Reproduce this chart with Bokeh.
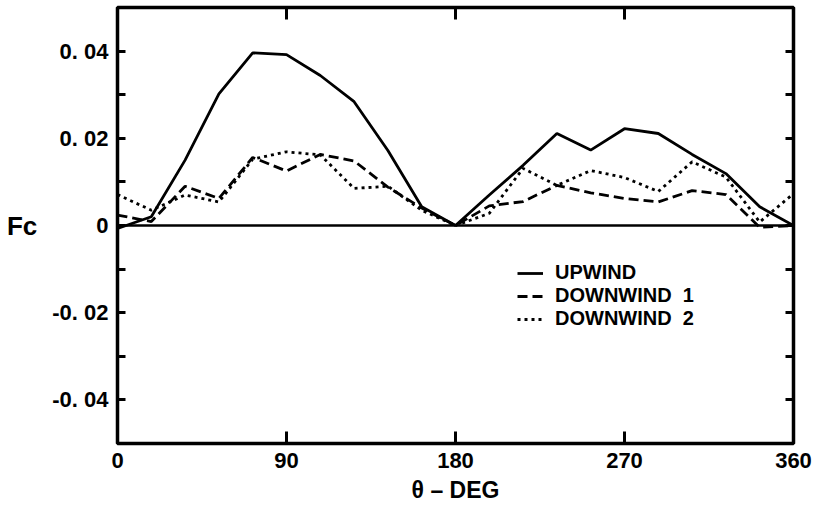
from bokeh.plotting import figure
from bokeh.models import Range1d, LinearAxis, FixedTicker, Span, Legend, LegendItem
from bokeh.embed import file_html
from bokeh.resources import INLINE

# ---- data ----
theta = [0, 18, 36, 54, 72, 90, 108, 126, 144, 162, 180,
         198, 216, 234, 252, 270, 288, 306, 324, 342, 360]
upwind = [-0.0007, 0.0020, 0.0150, 0.0302, 0.0396, 0.0392, 0.0344, 0.0284, 0.0172, 0.0043, 0.0,
          0.0070, 0.0138, 0.0211, 0.0173, 0.0222, 0.0211, 0.0163, 0.0119, 0.0043, 0.0]
downwind1 = [0.0024, 0.0009, 0.0090, 0.0062, 0.0156, 0.0125, 0.0163, 0.0148, 0.0088, 0.0040, 0.0,
             0.0045, 0.0055, 0.0092, 0.0075, 0.0062, 0.0054, 0.0080, 0.0071, -0.0004, 0.0]
downwind2 = [0.0071, 0.0035, 0.0070, 0.0054, 0.0152, 0.0169, 0.0162, 0.0085, 0.0090, 0.0035, 0.0,
             0.0028, 0.0131, 0.0092, 0.0126, 0.0110, 0.0078, 0.0146, 0.0111, 0.0008, 0.0073]

x_ticks = [0, 90, 180, 270, 360]
y_ticks = [-0.04, -0.02, 0.0, 0.02, 0.04]
y_minor = [-0.03, -0.01, 0.01, 0.03]
y_tick_labels = ["-0. 04", "-0. 02", "0", "0. 02", "0. 04"]
series_names = ["UPWIND", "DOWNWIND  1", "DOWNWIND  2"]
x_title = "θ – DEG"
y_title = "Fc"

FONT = "Liberation Sans"

p = figure(width=813, height=512, x_range=Range1d(0, 360), y_range=Range1d(-0.05, 0.05),
           output_backend="svg", toolbar_location=None,
           min_border_left=117, min_border_right=20, min_border_top=7, min_border_bottom=69)
p.xgrid.visible = False
p.ygrid.visible = False
p.outline_line_color = "black"
p.outline_line_width = 3.5
p.background_fill_color = "white"
p.border_fill_color = "white"

yt = FixedTicker(ticks=y_ticks, minor_ticks=y_minor)
xt = FixedTicker(ticks=x_ticks, minor_ticks=[])

# left axis
ya = p.yaxis[0]
ya.ticker = yt
ya.major_label_overrides = {t: s for t, s in zip(y_ticks, y_tick_labels)}
ya.axis_line_color = None
ya.major_tick_in = 8
ya.major_tick_out = 0
ya.minor_tick_in = 8
ya.minor_tick_out = 0
ya.major_tick_line_width = 3
ya.minor_tick_line_width = 3
ya.major_label_standoff = 9
ya.major_label_text_font = FONT
ya.major_label_text_font_style = "bold"
ya.major_label_text_font_size = "22px"
ya.major_label_text_color = "black"
ya.axis_label = y_title
ya.axis_label_text_font = FONT
ya.axis_label_text_font_style = "bold"
ya.axis_label_text_font_size = "26px"
ya.axis_label_text_color = "black"
ya.axis_label_standoff = 12
try:
    ya.axis_label_orientation = "horizontal"
except Exception:
    pass

# bottom axis
xa = p.xaxis[0]
xa.ticker = xt
xa.axis_line_color = None
xa.major_tick_in = 12
xa.major_tick_out = 0
xa.major_tick_line_width = 3
xa.minor_tick_line_color = None
xa.major_label_standoff = 9
xa.major_label_text_font = FONT
xa.major_label_text_font_style = "bold"
xa.major_label_text_font_size = "22px"
xa.major_label_text_color = "black"
xa.axis_label = x_title
xa.axis_label_text_font = FONT
xa.axis_label_text_font_style = "bold"
xa.axis_label_text_font_size = "23px"
xa.axis_label_text_color = "black"
xa.axis_label_standoff = 6

# right / top tick-only axes (labels not drawn)
ra = LinearAxis(ticker=yt, axis_line_color=None, major_tick_in=8, major_tick_out=0,
                minor_tick_in=8, minor_tick_out=0, major_tick_line_width=3, minor_tick_line_width=3,
                major_label_text_font_size="1px", major_label_text_color=None, major_label_standoff=0)
ta = LinearAxis(ticker=xt, axis_line_color=None, major_tick_in=12, major_tick_out=0,
                major_tick_line_width=3, minor_tick_line_color=None,
                major_label_text_font_size="1px", major_label_text_color=None, major_label_standoff=0)
p.add_layout(ra, "right")
p.add_layout(ta, "above")

# zero line
p.add_layout(Span(location=0, dimension="width", line_color="black", line_width=2.5))

r1 = p.line(theta, upwind, line_color="black", line_width=2.8)
r2 = p.line(theta, downwind1, line_color="black", line_width=2.8, line_dash="10 5")
r3 = p.line(theta, downwind2, line_color="black", line_width=2.8, line_dash="3 4")

legend = Legend(items=[LegendItem(label=series_names[0], renderers=[r1]),
                       LegendItem(label=series_names[1], renderers=[r2]),
                       LegendItem(label=series_names[2], renderers=[r3])],
                location=(400, 113), border_line_color=None, background_fill_alpha=0,
                padding=0, margin=0, spacing=0, glyph_width=26, glyph_height=20,
                label_height=20, label_standoff=12,
                label_text_font=FONT, label_text_font_style="bold",
                label_text_font_size="20px", label_text_color="black")
p.add_layout(legend)

open("out.html", "w").write(file_html(p, INLINE))
